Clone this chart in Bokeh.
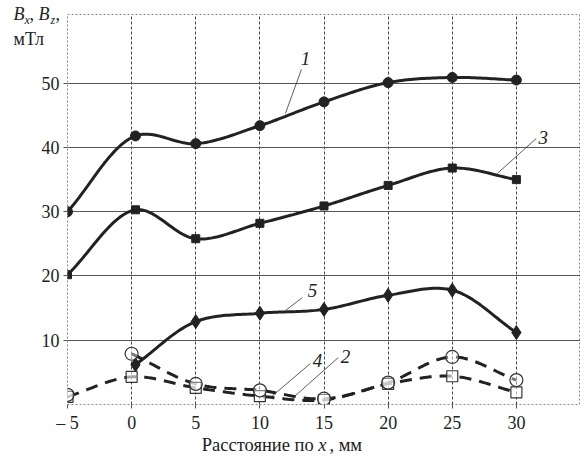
import numpy as np
from bokeh.plotting import figure
from bokeh.models import Range1d, FixedTicker, Label
from bokeh.core.properties import value
from bokeh.embed import file_html
from bokeh.resources import INLINE

# ---------------- data ----------------
x_ticks = [-5, 0, 5, 10, 15, 20, 25, 30]
x_tick_labels = ["– 5", "0", "5", "10", "15", "20", "25", "30"]
y_ticks = [10, 20, 30, 40, 50]

x1 = [-5, 0.3, 5, 10, 15, 20, 25, 30]
y1 = [30.0, 41.8, 40.6, 43.4, 47.1, 50.1, 50.9, 50.5]

x3 = [-5, 0.3, 5, 10, 15, 20, 25, 30]
y3 = [20.2, 30.3, 25.8, 28.2, 30.9, 34.1, 36.8, 35.0]

x5 = [0.3, 5, 10, 15, 20, 25, 30]
y5 = [6.2, 12.9, 14.2, 14.8, 17.0, 17.8, 11.2]

x4 = [-5, 0, 5, 10, 15, 20, 25, 30]
y4 = [1.5, 7.9, 3.2, 2.2, 0.9, 3.4, 7.4, 3.8]

x2 = [-5, 0, 5, 10, 15, 20, 25, 30]
y2 = [1.2, 4.3, 2.6, 1.3, 0.7, 3.2, 4.4, 1.9]

# ---------------- helpers ----------------
SX, SY = 12.83, 6.425  # approx px per unit, used only to smooth in screen-like space


def smooth(xs, ys, n=24):
    P = np.column_stack([np.asarray(xs, float) * SX, np.asarray(ys, float) * SY])
    P = np.vstack([2 * P[0] - P[1], P, 2 * P[-1] - P[-2]])
    out = []
    for i in range(1, len(P) - 2):
        p0, p1, p2, p3 = P[i - 1], P[i], P[i + 1], P[i + 2]
        def tj(ti, a, b):
            return ti + max(np.linalg.norm(b - a), 1e-6) ** 0.5
        t0 = 0.0
        t1 = tj(t0, p0, p1)
        t2 = tj(t1, p1, p2)
        t3 = tj(t2, p2, p3)
        t = np.linspace(t1, t2, n)[:, None]
        A1 = (t1 - t) / (t1 - t0) * p0 + (t - t0) / (t1 - t0) * p1
        A2 = (t2 - t) / (t2 - t1) * p1 + (t - t1) / (t2 - t1) * p2
        A3 = (t3 - t) / (t3 - t2) * p2 + (t - t2) / (t3 - t2) * p3
        B1 = (t2 - t) / (t2 - t0) * A1 + (t - t0) / (t2 - t0) * A2
        B2 = (t3 - t) / (t3 - t1) * A2 + (t - t1) / (t3 - t1) * A3
        C = (t2 - t) / (t2 - t1) * B1 + (t - t1) / (t2 - t1) * B2
        out.append(C if i == 1 else C[1:])
    C = np.vstack(out)
    return C[:, 0] / SX, C[:, 1] / SY


INK = "#222222"
SERIF = "Liberation Serif"

p = figure(width=580, height=458, output_backend="svg", toolbar_location=None,
           x_range=Range1d(-5, 35), y_range=Range1d(0, 60.7),
           min_border_left=67, min_border_right=0, min_border_top=14, min_border_bottom=54)

p.background_fill_color = "white"
p.border_fill_color = "white"
p.outline_line_color = "#8a8a8a"
p.outline_line_dash = "2 2"
p.outline_line_width = 1

# grids
p.xgrid.ticker = FixedTicker(ticks=x_ticks[1:])
p.ygrid.ticker = FixedTicker(ticks=y_ticks)
p.xgrid.grid_line_color = "#444444"
p.xgrid.grid_line_dash = "3 2"
p.xgrid.grid_line_width = 1
p.ygrid.grid_line_color = "#555555"
p.ygrid.grid_line_width = 1

# axes
for ax in (p.xaxis[0], p.yaxis[0]):
    ax.axis_line_color = None
    ax.major_tick_line_color = "#555555"
    ax.major_tick_in = 0
    ax.major_tick_out = 4
    ax.minor_tick_line_color = None
    ax.major_label_text_font = SERIF
    ax.major_label_text_font_size = "18px"
    ax.major_label_text_color = INK
    ax.major_label_text_font_style = "normal"

p.xaxis.ticker = FixedTicker(ticks=x_ticks)
p.xaxis.major_label_overrides = {t: l for t, l in zip(x_ticks, x_tick_labels)}
p.xaxis.major_label_standoff = 4
p.yaxis.ticker = FixedTicker(ticks=y_ticks)
p.yaxis.major_label_standoff = 4

# ---------------- curves ----------------
sx, sy = smooth(x1, y1)
p.line(sx, sy, line_color=INK, line_width=3)
p.scatter(x1, y1, marker="circle", size=10, fill_color=INK, line_color=INK)

sx, sy = smooth(x3, y3)
p.line(sx, sy, line_color=INK, line_width=3)
p.scatter(x3, y3, marker="square", size=8, fill_color=INK, line_color=INK)

sx, sy = smooth(x5, y5)
p.line(sx, sy, line_color=INK, line_width=3)
p.scatter(x5, y5, marker="diamond", size=14, fill_color=INK, line_color=INK)

sx, sy = smooth(x4[1:], y4[1:])
p.line(sx, sy, line_color=INK, line_width=3, line_dash="12 8")
sx, sy = smooth(x2, y2)
p.line(sx, sy, line_color=INK, line_width=3, line_dash="12 8")

p.scatter(x2, y2, marker="square", size=11, fill_color="white", fill_alpha=0.6,
          line_color="#333333", line_width=1.2)
p.scatter(x4, y4, marker="circle", size=13, fill_color="white", fill_alpha=0.4,
          line_color="#333333", line_width=1.2)

# ---------------- curve labels with leaders ----------------
leaders = [
    ("1", 13.55, 53.85, (13.24, 52.14), (11.99, 45.29)),
    ("3", 32.10, 41.56, (31.55, 41.40), (28.51, 35.95)),
    ("5", 14.10, 17.74, (13.32, 16.65), (11.99, 14.63)),
    ("4", 14.49, 6.85, (13.94, 6.38), (10.82, 1.09)),
    ("2", 16.67, 7.47, (16.12, 7.32), (12.61, 1.09)),
]
for txt, lx, ly, a, b in leaders:
    p.line([a[0], b[0]], [a[1], b[1]], line_color="#333333", line_width=0.8)
    p.add_layout(Label(x=lx, y=ly, text=txt, text_font=SERIF, text_font_size="19px",
                       text_font_style="italic", text_color=INK,
                       text_align="center", text_baseline="middle"))

# ---------------- axis titles (text glyphs on the overlay level) ----------------
title_pieces = [
    # text, x, y, size, style, align
    ("B", -9.21, 60.78, "18px", "italic", "left"),
    ("x", -8.35, 59.77, "12px", "italic", "left"),
    (",", -7.96, 60.78, "18px", "normal", "left"),
    ("B", -7.26, 60.78, "18px", "italic", "left"),
    ("z", -6.33, 59.77, "12px", "italic", "left"),
    (",", -5.94, 60.78, "18px", "normal", "left"),
    ("мТл", -9.21, 56.81, "18px", "normal", "left"),
    ("Расстояние по", 14.20, -6.38, "18.5px", "normal", "right"),
    ("x", 14.56, -6.38, "18.5px", "italic", "left"),
    (", мм", 15.42, -6.38, "18.5px", "normal", "left"),
]
for t, x, y, size, style, align in title_pieces:
    p.text(x=[x], y=[y], text=[t], text_font=value(SERIF), text_font_size=size,
           text_font_style=style, text_color=INK, text_align=align,
           text_baseline="middle", level="overlay")

open("out.html", "w").write(file_html(p, INLINE))
